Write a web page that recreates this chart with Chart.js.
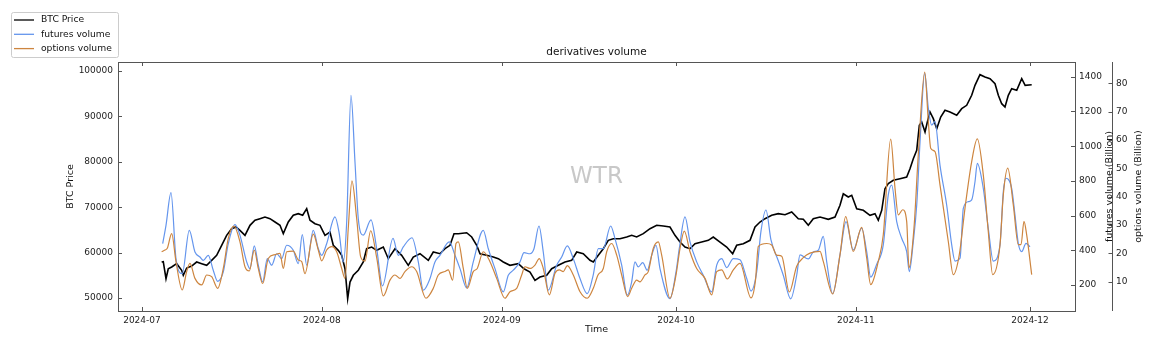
<!DOCTYPE html>
<html>
<head>
<meta charset="utf-8">
<script src="https://cdn.jsdelivr.net/npm/chart.js@4.4.1/dist/chart.umd.min.js"></script>
<style>
  html, body { margin: 0; padding: 0; background: #fff; }
  #wrap { width: 1156px; height: 343px; }
</style>
</head>
<body>
<div id="wrap"><canvas id="volChart" width="1156" height="343"></canvas></div>
<script>
// days counted from 2024-07-01
let btcDays = [3.39,3.67,4.14,4.53,5.12,5.98,6.84,7.12,7.70,8.56,
  9.42,10.29,11.15,12.01,12.87,13.73,14.59,15.45,16.20,16.88,
  17.75,18.61,19.47,20.33,21.19,22.05,22.92,23.78,24.35,25.21,
  26.07,26.93,27.69,28.38,28.95,29.81,30.67,31.53,32.39,32.96,
  33.82,34.41,34.98,35.44,35.84,36.41,37.27,38.13,38.71,39.58,
  40.44,41.58,42.44,43.59,44.74,45.88,46.74,47.90,49.33,50.19,
  51.34,52.21,53.07,53.76,54.50,55.94,56.81,57.67,58.24,59.39,
  60.53,61.39,62.25,63.40,64.83,65.82,66.85,67.71,68.57,69.73,
  70.59,71.73,72.88,74.03,74.90,76.03,77.19,77.76,78.62,79.48,
  80.34,81.20,82.36,83.51,84.37,85.23,86.37,87.53,88.68,89.82,
  90.97,91.83,92.70,93.56,94.42,95.28,96.43,97.57,98.43,99.59,
  100.74,101.77,102.46,103.60,104.76,105.62,106.48,107.34,108.49,109.63,
  110.79,111.94,113.08,113.94,114.80,115.66,116.82,118.25,119.40,120.26,
  120.83,121.69,122.28,123.14,124.28,125.43,126.29,126.86,127.45,128.01,
  128.58,129.45,130.60,131.75,132.32,132.89,133.48,133.93,134.34,134.91,
  135.31,135.77,136.34,136.93,137.61,138.35,139.21,140.37,141.23,142.09,
  142.95,143.52,144.38,145.24,146.11,146.97,147.54,148.12,148.69,149.26,
  149.84,150.71,151.57,152.16,153.29];
let btcPrice = [57930,58000,54250,56450,56830,57560,56110,55000,56610,57050,
  57930,57560,57200,58300,59400,61610,63810,65270,65640,64910,
  63810,66010,67120,67470,67840,67470,66740,66010,64170,66740,
  68220,68580,68220,69670,67120,66370,66010,63810,64540,61610,
  60500,59400,56450,49850,53520,55000,56110,57930,60860,61230,
  60500,61230,58660,60860,59400,57200,59030,59760,58300,60130,
  59760,60860,61610,64170,64170,64380,63440,61610,59760,59400,
  59030,58660,57930,57200,57560,56450,55730,53900,54630,55000,
  56450,57200,57930,58300,60130,59760,58300,57930,59400,60860,
  62710,63060,63060,63440,63810,63440,64170,65270,66010,65860,
  65640,63810,62330,61230,60860,61960,62330,62710,63440,62330,
  61230,59760,61610,61960,62710,65640,66740,67470,68220,68580,
  68350,68940,67470,67330,66010,67470,67840,67330,67840,70420,
  72970,72250,72620,69670,69320,68220,68580,67120,69320,74070,
  75180,75920,76280,76650,78480,80690,82530,88040,88770,86560,
  88770,90970,89500,87290,89870,91340,90970,90240,91700,92440,
  94650,96850,99190,98680,98300,97200,94650,92800,92070,94650,
  96100,95750,98300,96850,96980];

let futDays = [3.57,4.14,5.00,5.86,6.94,8.15,9.13,9.99,10.56,11.42,
  12.28,13.04,14.01,14.87,16.02,16.88,18.04,18.61,19.35,20.04,
  20.80,21.59,22.35,23.21,24.07,24.93,26.07,26.93,27.62,28.38,
  29.51,30.38,30.96,31.82,33.25,33.99,34.68,35.27,36.01,36.70,
  37.27,38.13,39.46,40.44,41.44,43.25,44.16,45.02,46.52,47.61,
  48.47,49.62,50.48,51.34,52.95,53.93,54.79,55.94,57.08,58.80,
  59.67,60.82,62.25,63.11,63.97,65.13,65.82,66.85,67.54,68.40,
  69.14,70.00,71.45,72.31,73.28,74.31,75.47,76.72,77.76,78.62,
  79.48,80.75,81.50,82.65,83.62,84.37,84.94,85.51,86.27,87.06,
  87.82,88.56,89.25,90.97,92.01,92.57,93.56,94.42,95.57,96.71,
  98.16,99.02,99.88,100.74,101.88,103.03,104.19,104.93,105.91,106.65,
  107.51,108.37,109.63,110.49,111.77,112.80,113.37,114.80,115.66,116.52,
  117.38,117.97,119.00,120.26,121.30,122.55,124.00,124.86,125.55,126.59,
  127.72,128.58,129.17,130.03,130.89,131.75,132.20,132.89,133.48,134.05,
  134.86,135.48,136.06,136.63,137.49,138.64,139.51,140.08,140.94,141.51,
  142.37,142.95,143.52,143.92,144.95,145.81,146.67,147.83,148.40,148.86,
  149.84,150.41,150.98,151.57,152.31,153.00];
let futVolume = [438,544,732,352,265,515,390,361,342,371,
  285,221,275,438,548,487,333,294,425,314,
  218,352,314,380,352,429,400,323,490,314,
  515,409,371,438,592,496,333,563,1293,909,
  582,487,575,409,195,468,371,419,472,333,
  170,237,333,371,448,371,294,183,333,515,
  409,294,160,256,285,333,386,380,409,540,
  390,170,314,361,425,352,237,150,260,409,
  409,540,467,314,141,218,333,304,329,285,
  371,429,294,121,275,409,592,448,333,256,
  160,314,352,300,352,345,237,165,275,510,
  632,460,340,256,120,256,373,350,390,400,
  480,334,150,373,565,402,527,392,245,320,
  431,719,776,565,469,392,277,450,661,1026,
  1420,1218,1122,1141,891,661,431,338,354,642,
  680,690,795,901,757,527,338,431,738,815,
  757,603,440,392,440,420];

let optDays = [3.39,3.96,4.36,5.12,5.86,6.94,7.70,8.27,9.13,10.29,
  11.15,12.01,13.04,14.01,14.87,15.85,16.88,17.75,18.49,19.35,
  20.04,20.80,21.76,22.92,23.78,24.35,24.93,26.07,26.93,27.52,
  28.08,29.51,30.38,30.96,31.82,32.68,33.55,34.41,34.98,35.54,
  36.18,36.99,37.68,38.42,39.40,40.44,41.58,42.73,43.59,44.45,
  45.31,46.47,47.33,48.93,50.19,51.05,52.21,52.77,53.53,54.10,
  54.50,55.36,56.05,57.08,57.77,58.80,59.96,61.11,62.54,63.40,
  64.56,65.42,65.99,66.85,67.71,68.45,69.14,70.18,71.16,71.90,
  72.59,73.28,74.31,75.47,76.72,77.76,78.57,79.48,80.07,80.93,
  81.79,82.65,83.68,84.37,85.23,85.80,86.66,87.23,88.09,88.96,
  89.54,90.97,92.01,92.70,93.44,94.42,95.57,97.00,98.16,99.02,
  99.88,100.84,101.88,103.03,104.93,105.70,106.19,107.63,108.49,109.35,
  110.22,111.53,112.80,113.94,115.09,116.82,117.38,119.00,120.26,121.24,
  122.55,124.00,124.86,125.55,126.86,127.72,129.00,129.74,130.31,131.07,
  131.75,132.15,133.01,133.75,134.86,135.48,135.89,136.63,137.49,138.92,
  139.78,140.81,141.80,142.95,143.92,144.95,145.81,146.57,147.83,148.40,
  149.16,150.12,150.98,151.45,151.96,152.42,153.29];
let optVolume = [20.6,21.2,21.8,27.0,17.1,7.1,13.6,16.5,11.2,8.9,
  12.4,11.8,7.7,14.7,25.3,29.6,24.1,15.3,13.8,21.2,
  14.7,9.4,18.2,19.6,20.0,14.7,20.6,20.8,17.7,17.1,
  12.9,26.8,21.2,17.4,21.2,22.4,20.6,14.7,11.2,28.8,
  45.6,32.3,18.8,17.3,28.0,18.5,5.0,10.6,12.4,11.2,
  13.6,15.3,13.6,4.2,7.7,12.4,13.6,14.2,10.6,23.5,
  24.1,14.7,7.7,13.6,14.7,20.6,17.1,11.2,4.2,6.5,
  7.7,12.4,15.3,14.7,15.9,18.2,14.7,5.4,13.0,14.2,
  13.6,15.7,12.4,6.5,4.2,7.7,12.4,14.7,20.6,23.5,
  19.4,12.4,4.8,7.7,10.6,10.0,12.4,13.6,21.8,24.1,
  19.4,4.2,12.4,21.8,27.9,20.6,14.7,11.2,5.4,13.6,
  14.2,11.0,14.2,16.5,4.3,10.5,22.5,23.5,23.0,19.4,
  19.0,6.4,15.5,18.5,20.1,20.7,17.2,5.7,19.5,33.0,
  20.7,29.2,18.4,9.0,17.2,26.6,60.3,43.0,33.6,35.4,
  31.3,14.9,29.0,54.8,83.9,66.5,57.1,55.9,44.2,24.2,
  12.5,19.5,36.0,52.4,60.4,47.7,27.7,12.5,23.1,40.7,
  50.1,37.1,23.1,23.1,31.3,26.6,12.5];

let monthDays = [0, 31, 62, 92, 123, 153];
let monthLabels = ['2024-07', '2024-08', '2024-09', '2024-10', '2024-11', '2024-12'];
let btcTicks = [50000, 60000, 70000, 80000, 90000, 100000];
let futTicks = [200, 400, 600, 800, 1000, 1200, 1400];
let optTicks = [10, 20, 30, 40, 50, 60, 70, 80];

const FONT = 'DejaVu Sans';

function toPoints(xs, ys) {
  return xs.map(function (x, i) { return { x: x, y: ys[i] }; });
}

// matplotlib-ish frame, inward ticks, titles, legend and watermark
const decorations = {
  id: 'decorations',
  beforeDatasetsDraw(chart) {
    let ctx = chart.ctx;
    let a = chart.chartArea;
    ctx.save();
    ctx.fillStyle = '#c8c8c8';
    ctx.font = '23px "' + FONT + '"';
    ctx.textAlign = 'center';
    ctx.textBaseline = 'middle';
    ctx.fillText('WTR', (a.left + a.right) / 2, 177);
    ctx.restore();
  },
  afterDatasetsDraw(chart) {
    let ctx = chart.ctx;
    let a = chart.chartArea;
    let s = chart.scales;
    ctx.save();

    // frame
    ctx.strokeStyle = '#555';
    ctx.lineWidth = 1;
    ctx.strokeRect(Math.round(a.left) + 0.5, Math.round(a.top) + 0.5,
      Math.round(a.right - a.left), Math.round(a.bottom - a.top));
    let sx = Math.round(s.y2.left) + 0.5;
    ctx.beginPath();
    ctx.moveTo(sx, a.top);
    ctx.lineTo(sx, a.bottom);
    ctx.stroke();

    // ticks
    ctx.beginPath();
    monthDays.forEach(function (d) {
      let px = Math.round(s.x.getPixelForValue(d)) + 0.5;
      ctx.moveTo(px, a.bottom); ctx.lineTo(px, a.bottom - 4);
      ctx.moveTo(px, a.top); ctx.lineTo(px, a.top + 4);
    });
    btcTicks.forEach(function (v) {
      let py = Math.round(s.y.getPixelForValue(v)) + 0.5;
      ctx.moveTo(a.left, py); ctx.lineTo(a.left + 4, py);
    });
    futTicks.forEach(function (v) {
      let py = Math.round(s.y1.getPixelForValue(v)) + 0.5;
      ctx.moveTo(a.right, py); ctx.lineTo(a.right - 4, py);
    });
    optTicks.forEach(function (v) {
      let py = Math.round(s.y2.getPixelForValue(v)) + 0.5;
      ctx.moveTo(sx, py); ctx.lineTo(sx - 4, py);
    });
    ctx.stroke();

    // title and axis titles
    ctx.fillStyle = '#111';
    ctx.textAlign = 'center';
    ctx.textBaseline = 'middle';
    ctx.font = '10.5px "' + FONT + '"';
    ctx.fillText('derivatives volume', (a.left + a.right) / 2, 52);
    ctx.font = '9.5px "' + FONT + '"';
    ctx.fillText('Time', (a.left + a.right) / 2, 330);
    let midY = (a.top + a.bottom) / 2;
    [['BTC Price', 71], ['futures volume (Billion)', 1110], ['options volume (Billion)', 1139]].forEach(function (t) {
      ctx.save();
      ctx.translate(t[1], midY);
      ctx.rotate(-Math.PI / 2);
      ctx.fillText(t[0], 0, 0);
      ctx.restore();
    });

    // legend
    ctx.fillStyle = '#fff';
    ctx.strokeStyle = '#cccccc';
    ctx.beginPath();
    ctx.roundRect(11.5, 12.5, 107, 45, 2);
    ctx.fill();
    ctx.stroke();
    ctx.textAlign = 'left';
    ctx.font = '9.2px "' + FONT + '"';
    chart.data.datasets.forEach(function (ds, i) {
      let ly = 20 + i * 14.3;
      ctx.strokeStyle = ds.borderColor;
      ctx.lineWidth = 1.3;
      ctx.beginPath();
      ctx.moveTo(14, ly);
      ctx.lineTo(34, ly);
      ctx.stroke();
      ctx.fillStyle = '#111';
      ctx.fillText(ds.label, 41, ly);
    });
    ctx.restore();
  }
};

function tickFont() {
  return { family: FONT, size: 9 };
}

let chart = new Chart(document.querySelector('#volChart'), {
  type: 'line',
  data: {
    datasets: [
      {
        label: 'BTC Price',
        data: toPoints(btcDays, btcPrice),
        yAxisID: 'y',
        borderColor: '#000000',
        borderWidth: 1.6,
        pointRadius: 0,
        tension: 0,
        order: 3
      },
      {
        label: 'futures volume',
        data: toPoints(futDays, futVolume),
        yAxisID: 'y1',
        borderColor: '#6495ed',
        borderWidth: 1.2,
        pointRadius: 0,
        cubicInterpolationMode: 'monotone',
        order: 2
      },
      {
        label: 'options volume',
        data: toPoints(optDays, optVolume),
        yAxisID: 'y2',
        borderColor: '#cd853f',
        borderWidth: 1.2,
        pointRadius: 0,
        cubicInterpolationMode: 'monotone',
        order: 1
      }
    ]
  },
  options: {
    responsive: false,
    animation: false,
    devicePixelRatio: 1,
    layout: { padding: { top: 62, left: 0, right: 0, bottom: 0 } },
    plugins: {
      legend: { display: false },
      tooltip: { enabled: false },
      title: { display: false }
    },
    scales: {
      x: {
        type: 'linear',
        min: -4.13,
        max: 160.75,
        afterBuildTicks: function (s) { s.ticks = monthDays.map(function (v) { return { value: v }; }); },
        afterFit: function (s) { s.height = 32; },
        grid: { display: false, drawTicks: false },
        border: { display: false },
        ticks: {
          padding: 4,
          maxRotation: 0,
          autoSkip: false,
          color: '#222',
          font: tickFont(),
          callback: function (v) { return monthLabels[monthDays.indexOf(v)]; }
        }
      },
      y: {
        type: 'linear',
        position: 'left',
        min: 47140,
        max: 101980,
        afterBuildTicks: function (s) { s.ticks = btcTicks.map(function (v) { return { value: v }; }); },
        afterFit: function (s) { s.width = 118; },
        grid: { display: false, drawTicks: false },
        border: { display: false },
        ticks: { padding: 5, color: '#222', font: tickFont(), callback: function (v) { return String(v); } }
      },
      y1: {
        type: 'linear',
        position: 'right',
        min: 50,
        max: 1485,
        afterBuildTicks: function (s) { s.ticks = futTicks.map(function (v) { return { value: v }; }); },
        afterFit: function (s) { s.width = 37; },
        grid: { display: false, drawTicks: false },
        border: { display: false },
        ticks: { padding: 4, color: '#222', font: tickFont(), callback: function (v) { return String(v); } }
      },
      y2: {
        type: 'linear',
        position: 'right',
        min: -0.3,
        max: 87.5,
        afterBuildTicks: function (s) { s.ticks = optTicks.map(function (v) { return { value: v }; }); },
        afterFit: function (s) { s.width = 44; },
        grid: { display: false, drawTicks: false },
        border: { display: false },
        ticks: { padding: 4, color: '#222', font: tickFont(), callback: function (v) { return String(v); } }
      }
    }
  },
  plugins: [decorations]
});
</script>
</body>
</html>
